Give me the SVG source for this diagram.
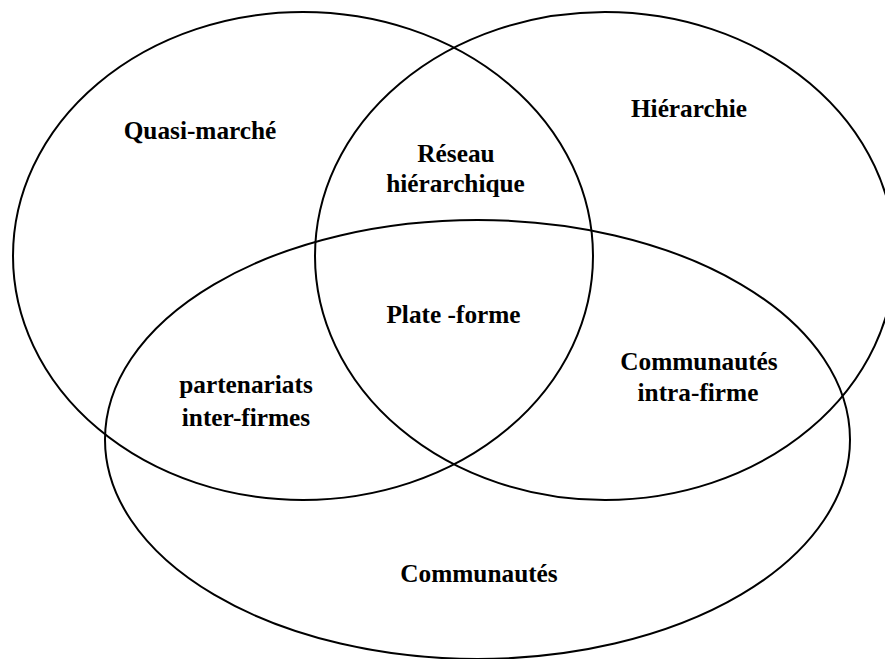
<svg xmlns="http://www.w3.org/2000/svg" width="885" height="659" viewBox="0 0 885 659">
<style>
.e{fill:none;stroke:#000;stroke-width:2}
.t{font-family:"Liberation Serif","Times New Roman",serif;font-weight:bold;font-size:25.3px;fill:#000;text-anchor:middle}
</style>
<rect width="885" height="659" fill="#fff"/>
<g id="connectors"></g>
<g id="quasi-marche">
<ellipse class="e" cx="303" cy="256" rx="290" ry="244"/>
<text class="t" x="200" y="139">Quasi-marché</text>
</g>
<g id="hierarchie">
<ellipse class="e" cx="605" cy="256" rx="290" ry="244"/>
<text class="t" x="689" y="117">Hiérarchie</text>
</g>
<g id="communautes">
<ellipse class="e" cx="477.5" cy="439.5" rx="372.5" ry="219.5"/>
<text class="t" x="479" y="582">Communautés</text>
</g>
<g id="reseau-hierarchique">
<text class="t" x="456" y="162">Réseau</text>
<text class="t" x="455.5" y="192">hiérarchique</text>
</g>
<g id="plate-forme">
<text class="t" x="453.5" y="323">Plate -forme</text>
</g>
<g id="partenariats">
<text class="t" x="246" y="393">partenariats</text>
<text class="t" x="246" y="426">inter-firmes</text>
</g>
<g id="communautes-intra">
<text class="t" x="699" y="370">Communautés</text>
<text class="t" x="698" y="401">intra-firme</text>
</g>
</svg>
